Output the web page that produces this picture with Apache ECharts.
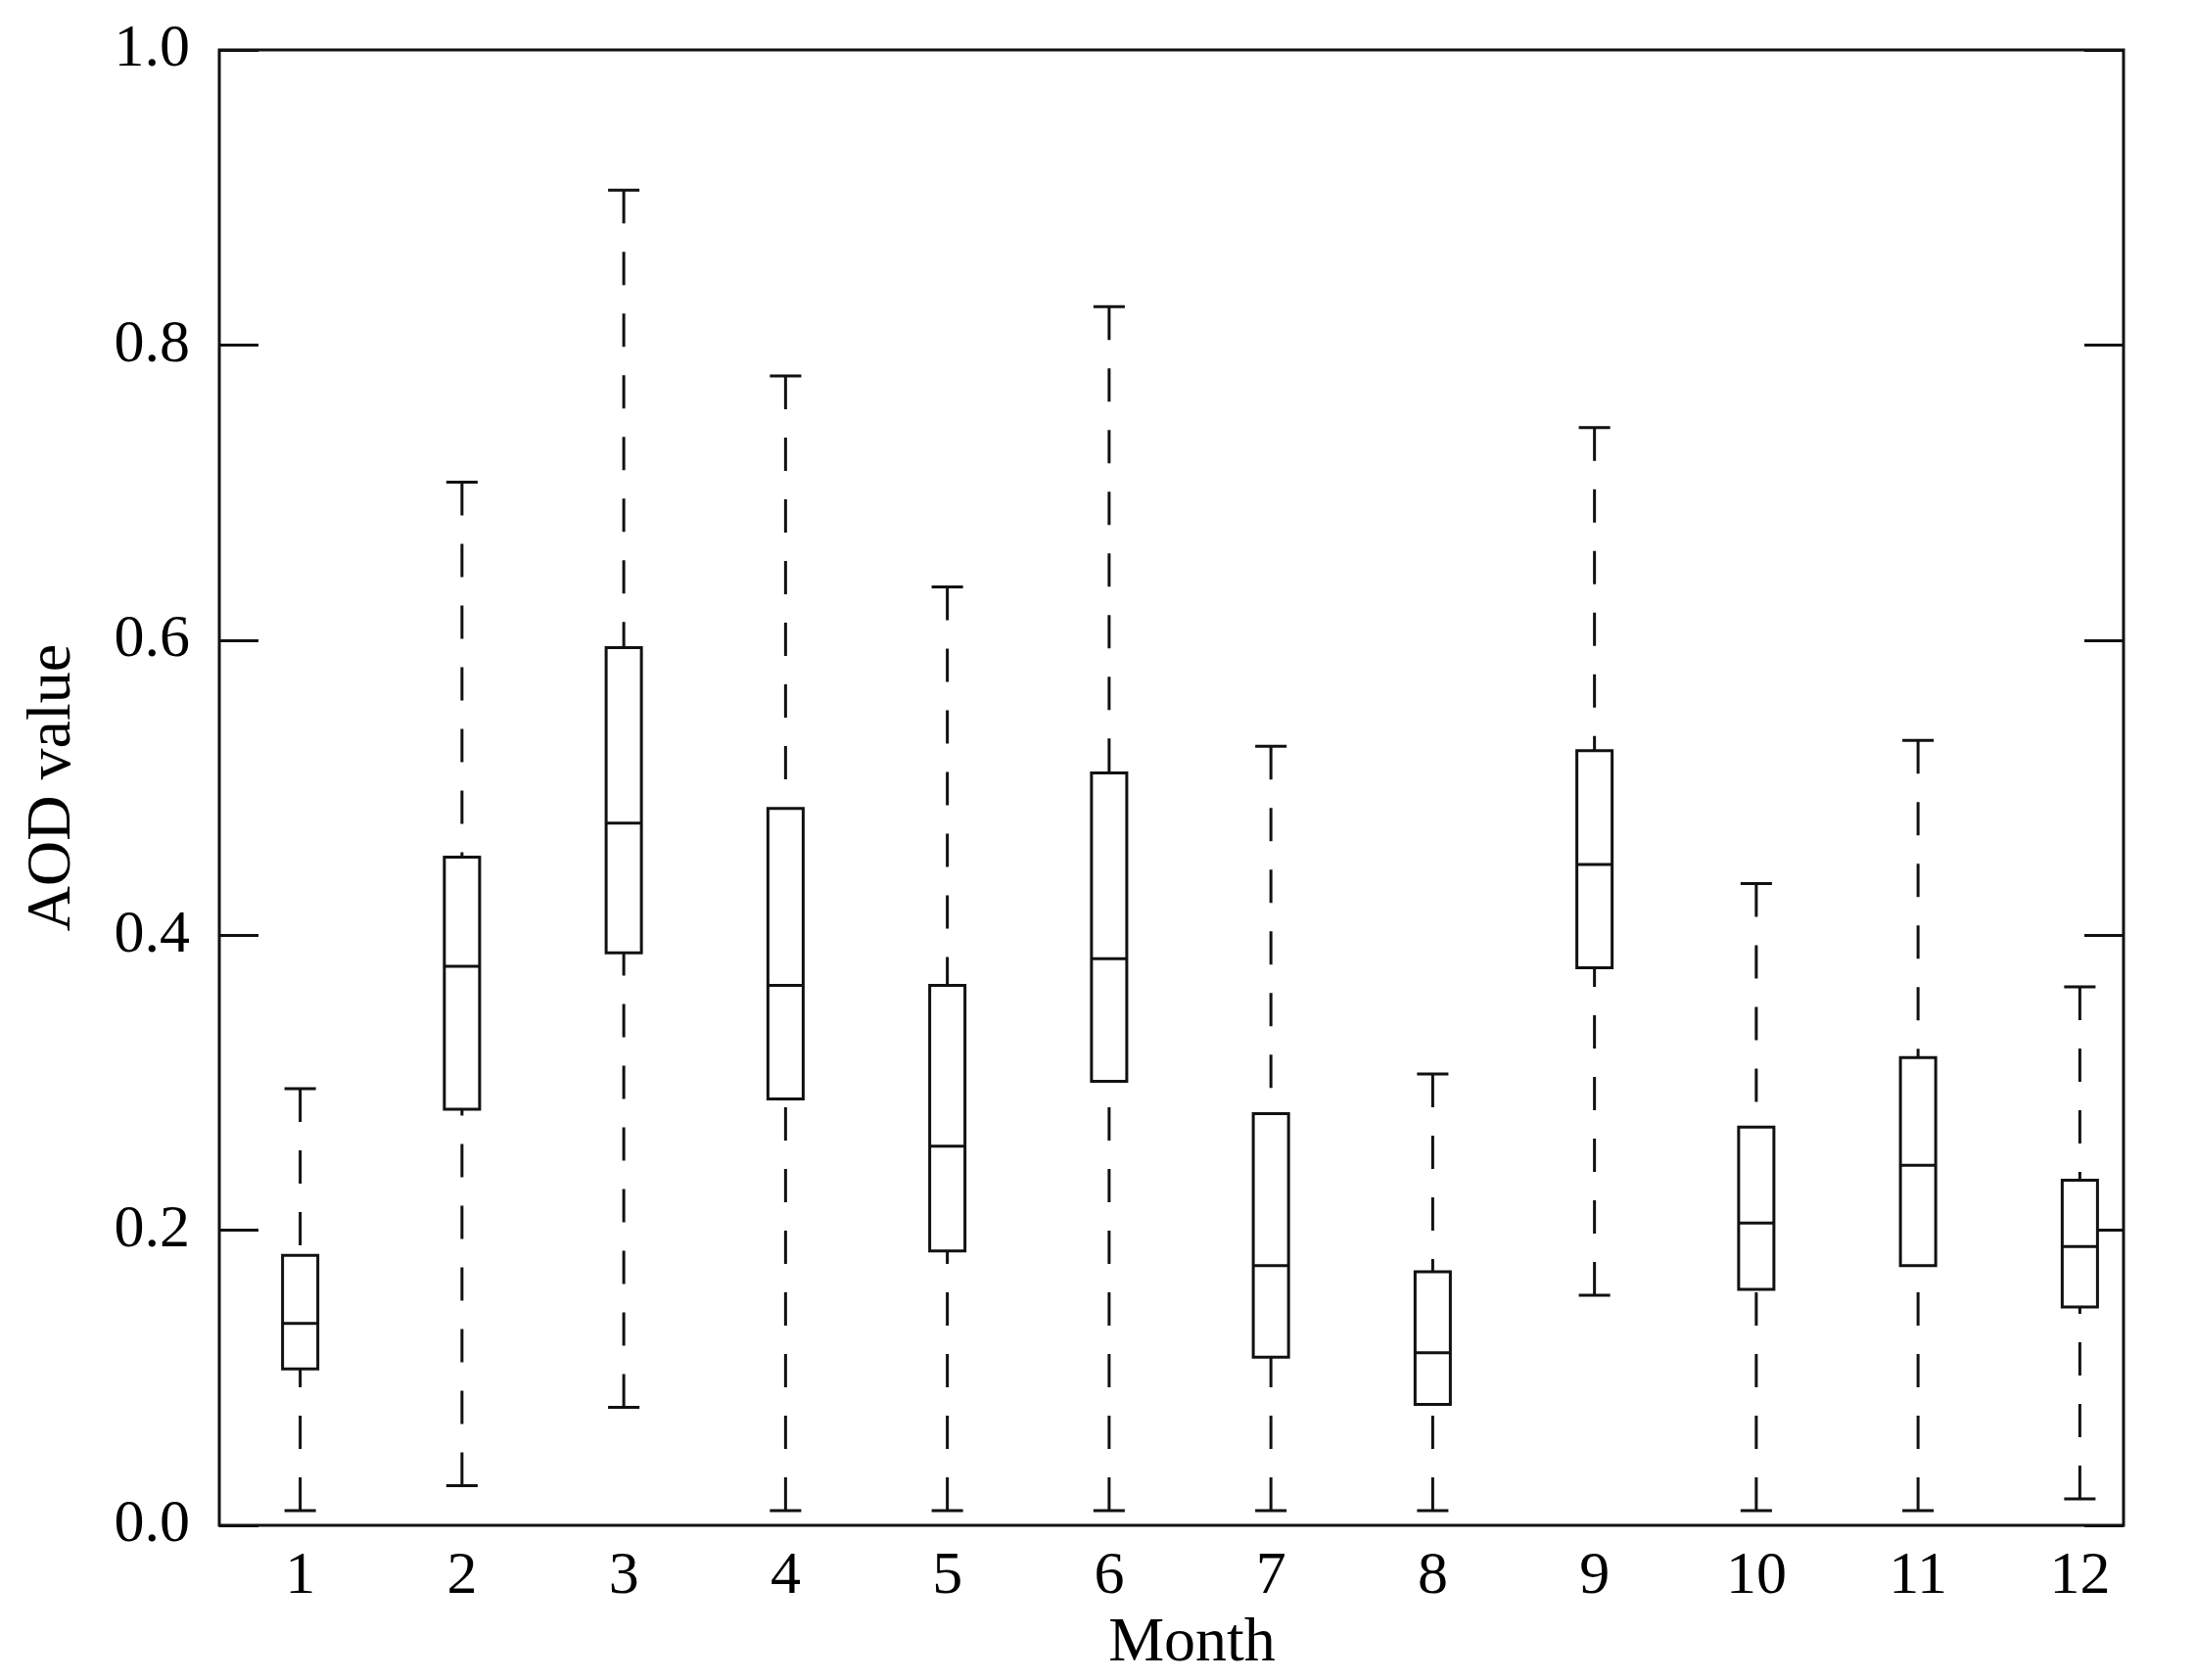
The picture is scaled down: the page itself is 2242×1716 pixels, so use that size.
<!DOCTYPE html>
<html>
<head>
<meta charset="utf-8">
<title>AOD value by month</title>
<script src="https://cdn.jsdelivr.net/npm/echarts@6/dist/echarts.min.js"></script>
<style>
  html, body { margin: 0; padding: 0; background: #fff; }
  #chart { width: 2242px; height: 1716px; }
</style>
</head>
<body>
<div id="chart"></div>
<script>
// months on the x axis
const months = [1, 2, 3, 4, 5, 6, 7, 8, 9, 10, 11, 12];
// whisker ends and quartiles
const lowWhisker  = [0.010, 0.027, 0.080, 0.010, 0.010, 0.010, 0.010, 0.010, 0.156, 0.010, 0.010, 0.018];
const q1          = [0.106, 0.282, 0.388, 0.289, 0.186, 0.301, 0.114, 0.082, 0.378, 0.160, 0.176, 0.148];
const medians     = [0.137, 0.379, 0.476, 0.366, 0.257, 0.384, 0.176, 0.117, 0.448, 0.205, 0.244, 0.189];
const q3          = [0.183, 0.453, 0.595, 0.486, 0.366, 0.510, 0.279, 0.172, 0.525, 0.270, 0.317, 0.234];
const highWhisker = [0.296, 0.707, 0.905, 0.779, 0.636, 0.826, 0.528, 0.306, 0.744, 0.435, 0.532, 0.365];

const boxData = months.map((m, i) => [m, lowWhisker[i], q1[i], medians[i], q3[i], highWhisker[i]]);

const chart = echarts.init(document.getElementById('chart'), null, {renderer: 'canvas'});

const fontFamily = '"Liberation Serif", "DejaVu Serif", serif';
const lineColor = '#111';

function renderBox(params, api) {
  const x = api.value(0);
  const pLow = api.coord([x, api.value(1)]);
  const pQ1 = api.coord([x, api.value(2)]);
  const pMed = api.coord([x, api.value(3)]);
  const pQ3 = api.coord([x, api.value(4)]);
  const pHigh = api.coord([x, api.value(5)]);
  const boxW = api.size([0.218, 0])[0];
  const capW = api.size([0.194, 0])[0];
  const cx = pMed[0];
  const dashed = {stroke: lineColor, lineWidth: 3, lineDash: [34, 29]};
  const solid = {stroke: lineColor, lineWidth: 3};
  return {
    type: 'group',
    children: [
      // whiskers start at the caps and run toward the box
      {type: 'line', shape: {x1: cx, y1: pLow[1], x2: cx, y2: pQ1[1]}, style: dashed},
      {type: 'line', shape: {x1: cx, y1: pHigh[1], x2: cx, y2: pQ3[1]}, style: dashed},
      {type: 'line', shape: {x1: cx - capW / 2, y1: pLow[1], x2: cx + capW / 2, y2: pLow[1]}, style: solid},
      {type: 'line', shape: {x1: cx - capW / 2, y1: pHigh[1], x2: cx + capW / 2, y2: pHigh[1]}, style: solid},
      {
        type: 'rect',
        shape: {x: cx - boxW / 2, y: pQ3[1], width: boxW, height: pQ1[1] - pQ3[1]},
        style: {fill: '#fff', stroke: lineColor, lineWidth: 3}
      },
      {type: 'line', shape: {x1: cx - boxW / 2, y1: pMed[1], x2: cx + boxW / 2, y2: pMed[1]}, style: solid}
    ]
  };
}

chart.setOption({
  backgroundColor: '#fff',
  animation: false,
  grid: {
    left: 224,
    right: 73,
    top: 51,
    bottom: 155,
    show: true,
    borderColor: lineColor,
    borderWidth: 3,
    backgroundColor: 'transparent'
  },
  xAxis: {
    type: 'value',
    min: 0.5,
    max: 12.27,
    name: 'Month',
    nameLocation: 'middle',
    nameGap: 82,
    nameTextStyle: {fontFamily: fontFamily, fontSize: 64, color: '#000', padding: [0, 0, 0, 42]},
    axisLine: {show: false},
    axisTick: {show: false},
    splitLine: {show: false},
    axisLabel: {
      customValues: months,
      fontFamily: fontFamily,
      fontSize: 62,
      color: '#000',
      margin: 22
    }
  },
  yAxis: [
    {
      type: 'value',
      min: 0,
      max: 1,
      interval: 0.2,
      name: 'AOD value',
      nameLocation: 'middle',
      nameRotate: 90,
      nameGap: 138,
      nameTextStyle: {fontFamily: fontFamily, fontSize: 64, color: '#000'},
      axisLine: {show: false},
      axisTick: {show: true, inside: true, length: 40, lineStyle: {color: lineColor, width: 3}},
      splitLine: {show: false},
      axisLabel: {
        fontFamily: fontFamily,
        fontSize: 62,
        color: '#000',
        margin: 30,
        formatter: v => v.toFixed(1)
      }
    },
    {
      type: 'value',
      position: 'right',
      min: 0,
      max: 1,
      interval: 0.2,
      axisLine: {show: false},
      axisTick: {show: true, inside: true, length: 40, lineStyle: {color: lineColor, width: 3}},
      axisLabel: {show: false},
      splitLine: {show: false}
    }
  ],
  series: [{
    type: 'custom',
    renderItem: renderBox,
    encode: {x: 0, y: [1, 2, 3, 4, 5]},
    data: boxData
  }]
});

window.addEventListener('resize', () => chart.resize());
</script>
</body>
</html>
